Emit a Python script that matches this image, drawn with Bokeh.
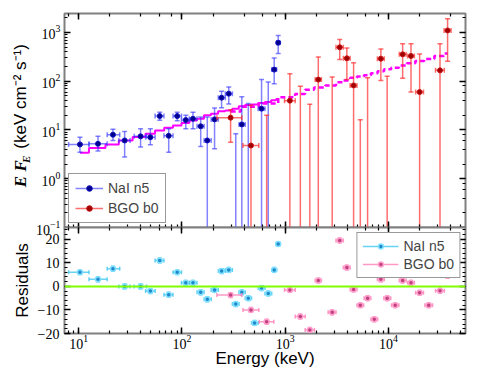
import numpy as np
from bokeh.plotting import figure
from bokeh.models import (ColumnDataSource, LogAxis, LinearAxis, Range1d, Span,
                          Legend, LegendItem, SingleIntervalTicker, BasicTickFormatter)
from bokeh.layouts import column, row
from bokeh.core.properties import value
from bokeh.embed import file_html
from bokeh.resources import INLINE

# ---------------- data ----------------
nai_e = [10.3, 15.4, 21.5, 27.9, 39.8, 49.5, 61.0, 74.5, 90.0, 109, 128, 152, 176, 207,
         242, 284, 332, 380, 439, 505, 590, 685, 782, 855]
nai_elo = [8.0, 12.6, 18.9, 24.5, 34.5, 44.5, 55.0, 67.0, 82.0, 99.0, 118, 140, 164, 192,
           225, 263, 308, 357, 410, 472, 547, 637, 740, 825]
nai_ehi = [12.6, 18.9, 25.0, 31.5, 45.5, 55.0, 67.0, 82.0, 99.0, 118, 140, 164, 192, 225,
           263, 308, 357, 410, 472, 547, 637, 740, 825, 890]
nai_flux = [5.06, 5.2, 8.0, 6.1, 7.4, 7.1, 19.3, 7.6, 19.3, 16.0, 17.0, 11.9, 6.1, 16.5,
            46.0, 55.6, 0.05, 13.0, 0.05, 0.05, 27.4, 0.05, 173, 617]
nai_flo = [3.5, 3.7, 6.1, 2.8, 4.5, 5.0, 15.8, 3.5, 15.5, 10.6, 10.6, 4.6, 0.01, 4.1,
           28.6, 34.0, 0.01, 0.01, 0.01, 0.01, 0.01, 0.01, 89, 369]
nai_fhi = [7.1, 7.4, 10.3, 9.3, 10.6, 10.6, 23.0, 10.6, 23.0, 20.0, 23.0, 18.4, 18.4, 28.2,
           62.0, 76.0, 8.4, 48.0, 35.0, 0.05, 108, 96, 300, 870]
nai_model = [3.42, 4.25, 5.06, 6.1, 7.14, 8.4, 9.8, 11.1, 12.4, 13.9, 15.7, 17.1, 20.0, 21.6,
             24.1, 25.2, 27.3, 30.5, 32.4, 33.5, 35.7, 37.4, 40.5, 43.0]
nai_resid = [6, 3, 7.5, 0, 0, -2, 11, -3.5, 6, 1.5, 1.5, -2.5, -5.5, -1.5, 6.5, 7, -7.5,
             -2.5, -5, -15.5, -0.7, -3, 7, 18]
nai_rerr = [1.0, 1.0, 1.0, 1.0, 1.0, 1.0, 1.0, 1.0, 1.0, 1.0, 1.0, 1.0, 1.0, 1.0, 1.0, 1.0,
            1.0, 1.0, 1.0, 1.0, 1.0, 1.0, 1.0, 1.0]

bgo_e = [296, 466, 661, 1109, 1400, 1730, 2090, 2850, 3370, 3950, 4590, 5330, 6270, 7280,
         8430, 9700, 11600, 13700, 16500, 20000, 24500, 31500, 37300]
bgo_elo = [218, 390, 560, 985, 1250, 1560, 1950, 2600, 3100, 3650, 4250, 4950, 5800, 6750,
           7800, 9000, 10700, 12700, 15300, 18300, 22500, 28500, 34500]
bgo_ehi = [380, 555, 775, 1250, 1560, 1920, 2240, 3100, 3650, 4250, 4950, 5750, 6750, 7850,
           9100, 10500, 12600, 14800, 17800, 21800, 26700, 34700, 40300]
bgo_flux = [17.9, 4.8, 0.05, 40, 0.05, 0.05, 108, 0.05, 497, 295, 82, 0.05, 0.05, 0.05,
            290, 0.05, 0.05, 356, 330, 60, 0.05, 167, 1100]
bgo_flo = [5.6, 0.01, 0.01, 0.01, 0.01, 0.01, 0.01, 0.01, 280, 108, 0.01, 0.01, 0.01, 0.01,
           104, 0.01, 0.01, 115, 60, 0.01, 0.01, 0.01, 256]
bgo_fhi = [26, 32, 20, 143, 78.5, 33.6, 314, 122, 720, 480, 240, 16.2, 118, 0.05,
           460, 126, 0.05, 590, 590, 360, 0.05, 590, 1920]
bgo_model = [24, 30, 35, 47, 55, 67, 74, 82, 95, 104, 118, 125, 132, 145, 160, 176, 190,
             210, 235, 260, 285, 330, 370]
bgo_resid = [-3.7, -10, -15, -1.5, -12.8, -18.5, 2.5, -11, 19.5, 8, -1.3, -8, -5, -14, 3,
             -5, -8, 2.5, 1.5, -2.7, -8, -1.8, 4.5]
bgo_rerr = [1.0, 1.0, 1.0, 1.0, 1.0, 1.0, 1.0, 1.0, 1.0, 1.0, 1.0, 1.0, 1.0, 1.0, 1.0,
            1.0, 1.0, 1.0, 1.0, 1.0, 1.0, 1.0, 1.0]

SERIF = "Liberation Serif"
SANS = "Liberation Sans"


def style_axis(ax, labels=True):
    ax.axis_line_color = None
    ax.major_tick_in = 6
    ax.major_tick_out = 0
    ax.minor_tick_in = 3
    ax.minor_tick_out = 0
    ax.major_tick_line_color = "black"
    ax.minor_tick_line_color = "black"
    ax.major_tick_line_width = 1.5
    ax.minor_tick_line_width = 1.2
    if labels:
        ax.major_label_text_font = SERIF
        ax.major_label_text_font_size = "14px"
        ax.major_label_text_color = "black"
        ax.major_label_standoff = 5
    else:
        ax.formatter = BasicTickFormatter()
        ax.major_label_text_font_size = "1px"
        ax.major_label_text_alpha = 0.0
        ax.major_label_standoff = 0


def errbars(p, x, y, xlo, xhi, ylo, yhi, bar_color, bar_alpha, fill, edge, size,
            edge_width=1.0, lw=1.5, cap=5):
    src = ColumnDataSource(dict(x=x, y=y, xlo=xlo, xhi=xhi, ylo=ylo, yhi=yhi))
    p.segment(x0="x", y0="ylo", x1="x", y1="yhi", source=src, line_color=bar_color,
              line_alpha=bar_alpha, line_width=lw)
    hs = p.segment(x0="xlo", y0="y", x1="xhi", y1="y", source=src, line_color=bar_color,
                   line_alpha=bar_alpha, line_width=lw)
    for cx, cy, ang in (("x", "yhi", 0.0), ("x", "ylo", 0.0), ("xlo", "y", np.pi / 2),
                        ("xhi", "y", np.pi / 2)):
        p.scatter(x=cx, y=cy, source=src, marker="dash", size=cap, angle=ang,
                  line_color=bar_color, line_alpha=bar_alpha, line_width=lw)
    pts = p.scatter(x="x", y="y", source=src, marker="circle", size=size,
                    fill_color=fill, line_color=edge, line_width=edge_width)
    return hs, pts


xr = Range1d(7.3, 55600)
TOP_H = 239          # top canvas height (frame 13..227, 12px room below)
STRIP_W = 33         # width of the strip holding the rotated y title

# ---------------- y title strip for the top panel ----------------
tf = figure(width=STRIP_W, height=TOP_H, x_range=Range1d(0, STRIP_W),
            y_range=Range1d(0, TOP_H), output_backend="svg", toolbar_location=None,
            x_axis_location=None, y_axis_location=None, min_border=0,
            outline_line_color=None)
tf.grid.visible = False
tf.text(x=[20], y=[TOP_H - 194], text=["E F"], angle=np.pi / 2, text_align="left",
        text_baseline="middle", text_font=value(SERIF), text_font_style="bold italic",
        text_font_size="17px", text_color="black")
tf.text(x=[25], y=[TOP_H - 167], text=["E"], angle=np.pi / 2, text_align="left",
        text_baseline="middle", text_font=value(SERIF), text_font_style="bold italic",
        text_font_size="11px", text_color="black")
tf.text(x=[20], y=[TOP_H - 151], text=["(keV cm\u207b\u00b2 s\u207b\u00b9)"], angle=np.pi / 2,
        text_align="left", text_baseline="middle", text_font=value(SANS),
        text_font_size="17px", text_color="black")

# ---------------- top panel ----------------
p1 = figure(width=476 - STRIP_W, height=TOP_H, x_axis_type="log", y_axis_type="log",
            x_range=xr, y_range=Range1d(0.1, 2450), output_backend="svg",
            toolbar_location=None, min_border_left=64 - STRIP_W, min_border_right=11,
            min_border_top=13, min_border_bottom=TOP_H - 227)
p1.grid.visible = False
p1.outline_line_color = "#808080"
p1.outline_line_width = 2
p1.add_layout(LogAxis(), "above")
p1.add_layout(LogAxis(), "right")
style_axis(p1.left[0], labels=True)
p1.left[0].major_label_standoff = 4
style_axis(p1.below[0], labels=False)
style_axis(p1.above[0], labels=False)
style_axis(p1.right[0], labels=False)

p1.step(x=nai_e, y=nai_model, mode="center", line_color="#ff00ff", line_width=2)
p1.step(x=bgo_e, y=bgo_model, mode="center", line_color="#ff00ff", line_width=2.5,
        line_dash="5 3")

n_h, n_p = errbars(p1, nai_e, nai_flux, nai_elo, nai_ehi, nai_flo, nai_fhi,
                   "#3030ff", 0.6, "#00008b", "#1010c0", 5)
b_h, b_p = errbars(p1, bgo_e, bgo_flux, bgo_elo, bgo_ehi, bgo_flo, bgo_fhi,
                   "#ff2020", 0.65, "#a00000", "#c01010", 5)

leg1 = Legend(items=[LegendItem(label="NaI n5", renderers=[n_h, n_p]),
                     LegendItem(label="BGO b0", renderers=[b_h, b_p])],
              location="bottom_left", margin=4, padding=6, spacing=4,
              glyph_width=28, glyph_height=14, label_text_font=SANS,
              label_text_font_size="14px", border_line_color="#333333",
              border_line_width=1, background_fill_alpha=1.0)
p1.add_layout(leg1)

# ---------------- residual panel ----------------
p2 = figure(width=476, height=154, x_axis_type="log", x_range=xr,
            y_range=Range1d(-20, 25), output_backend="svg", toolbar_location=None,
            min_border_left=64, min_border_right=11, min_border_top=3, min_border_bottom=45)
p2.margin = (-(TOP_H - 227) - 3, 0, 0, 0)
p2.border_fill_alpha = 0.0
p2.grid.visible = False
p2.outline_line_color = "#808080"
p2.outline_line_width = 2
p2.add_layout(LogAxis(), "above")
p2.add_layout(LinearAxis(ticker=SingleIntervalTicker(interval=10, num_minor_ticks=5)), "right")
xb = p2.below[0]
yl = p2.left[0]
style_axis(xb, labels=True)
style_axis(yl, labels=True)
style_axis(p2.above[0], labels=False)
style_axis(p2.right[0], labels=False)
xb.major_label_standoff = 1
yl.ticker = SingleIntervalTicker(interval=10, num_minor_ticks=5)
yl.major_label_overrides = {-20: "\u221220", -10: "\u221210"}
xb.axis_label = "Energy (keV)"
yl.axis_label = "Residuals"
for ax in (xb, yl):
    ax.axis_label_text_font = SANS
    ax.axis_label_text_font_size = "17px"
    ax.axis_label_text_font_style = "normal"
    ax.axis_label_text_color = "black"
xb.axis_label_standoff = -3
yl.axis_label_standoff = 3

p2.add_layout(Span(location=0, dimension="width", line_color="#80ff00", line_width=2))

nr = np.array(nai_resid, dtype=float)
ne = np.array(nai_rerr, dtype=float)
br = np.array(bgo_resid, dtype=float)
be = np.array(bgo_rerr, dtype=float)
rn_h, rn_p = errbars(p2, nai_e, nai_resid, nai_elo, nai_ehi, list(nr - ne), list(nr + ne),
                     "#40c8f0", 0.8, "#1e88c8", "#80e0ff", 5, edge_width=1.5, cap=4)
rb_h, rb_p = errbars(p2, bgo_e, bgo_resid, bgo_elo, bgo_ehi, list(br - be), list(br + be),
                     "#ff80b8", 0.8, "#c0407f", "#ffa0cc", 5, edge_width=1.5, cap=4)

leg2 = Legend(items=[LegendItem(label="NaI n5", renderers=[rn_h, rn_p]),
                     LegendItem(label="BGO b0", renderers=[rb_h, rb_p])],
              location="top_right", margin=5, padding=5, spacing=2,
              glyph_width=36, glyph_height=12, label_text_font=SANS,
              label_text_font_size="14px", border_line_color="#333333",
              border_line_width=1, background_fill_alpha=1.0)
p2.add_layout(leg2)

layout = column(row(tf, p1, spacing=0), p2, spacing=0)
open("out.html", "w").write(file_html(layout, INLINE))
